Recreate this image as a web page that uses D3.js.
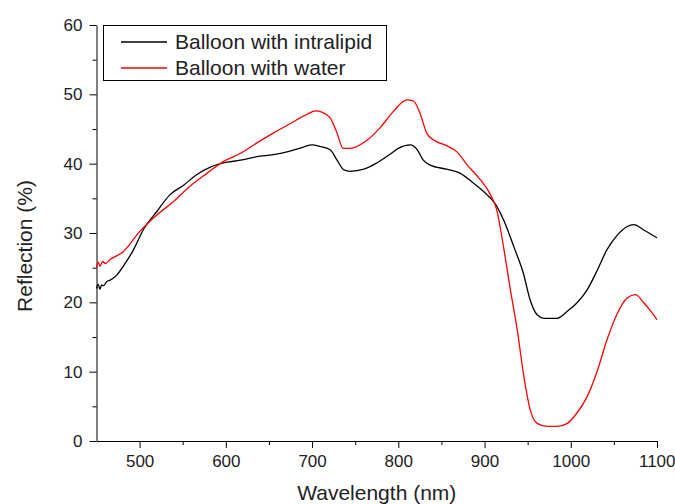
<!DOCTYPE html>
<html>
<head>
<meta charset="utf-8">
<script src="https://cdn.jsdelivr.net/npm/d3@7"></script>
<style>
  body { margin: 0; background: #fff; }
  svg text { font-family: "Liberation Sans", Arial, sans-serif; }
  .axis path, .axis line { stroke: #000; stroke-width: 1; }
  .axis text { font-size: 17px; fill: #222; }
</style>
</head>
<body>
<div id="chart"></div>
<script>
const SVG_WIDTH = 675;
const SVG_HEIGHT = 504;
const X_RANGE = [96.5, 657];
const Y_RANGE = [441, 25];

const X_LABEL = "Wavelength (nm)";
const Y_LABEL = "Reflection (%)";
const SERIES_NAMES = ["Balloon with intralipid", "Balloon with water"];
const SERIES_COLORS = ["#000000", "#ff0000"];

const X_MAJOR = [500, 600, 700, 800, 900, 1000, 1100];
const X_MINOR = [550, 650, 750, 850, 950, 1050];
const Y_MAJOR = [0, 10, 20, 30, 40, 50, 60];
const Y_MINOR = [5, 15, 25, 35, 45, 55];

// black curve
const intralipidWl = [450, 452, 454, 456, 458, 462, 466, 474, 481, 493, 504, 520, 535, 551, 566, 582, 597, 617, 636, 655, 671, 690, 700, 709, 721, 729, 737, 744, 760, 775, 791, 800, 814, 822, 829, 837, 856, 872, 887, 903, 913, 922, 934, 945, 953, 961, 969, 984, 996, 1007, 1019, 1031, 1042, 1054, 1065, 1073, 1085, 1100];
const intralipidR  = [22.0, 22.6, 21.9, 22.5, 22.4, 23.0, 23.2, 24.0, 25.2, 27.6, 30.4, 33.1, 35.5, 36.9, 38.4, 39.5, 40.1, 40.5, 41.0, 41.3, 41.7, 42.4, 42.7, 42.5, 42.0, 40.5, 39.1, 38.9, 39.2, 40.1, 41.4, 42.2, 42.7, 42.0, 40.5, 39.8, 39.2, 38.6, 37.2, 35.5, 34.1, 31.9, 28.0, 24.2, 20.3, 18.2, 17.7, 17.7, 18.7, 19.9, 21.8, 24.7, 27.6, 29.7, 30.9, 31.2, 30.4, 29.3];

// red curve
const waterWl = [450, 452, 454, 457, 460, 466, 481, 500, 520, 539, 558, 578, 597, 617, 636, 655, 675, 694, 704, 712, 721, 729, 736, 744, 764, 779, 794, 810, 818, 825, 833, 841, 856, 868, 880, 895, 907, 914, 922, 930, 938, 945, 953, 961, 973, 984, 996, 1007, 1019, 1031, 1042, 1054, 1065, 1075, 1085, 1093, 1100];
const waterR  = [25.0, 25.8, 25.2, 25.9, 25.6, 26.2, 27.3, 30.2, 32.6, 34.5, 36.7, 38.6, 40.3, 41.5, 43.0, 44.4, 45.8, 47.1, 47.6, 47.4, 46.6, 44.4, 42.2, 42.2, 43.4, 45.2, 47.5, 49.2, 49.0, 47.3, 44.4, 43.4, 42.6, 41.7, 39.8, 37.7, 35.5, 33.4, 28.0, 21.8, 16.0, 9.8, 4.5, 2.55, 2.1, 2.1, 2.55, 4.0, 6.4, 10.2, 14.6, 18.4, 20.6, 21.1, 19.9, 18.7, 17.5];

const seriesData = [
    intralipidWl.map((w, i) => ({ wl: w, r: intralipidR[i] })),
    waterWl.map((w, i) => ({ wl: w, r: waterR[i] }))
];

const svg = d3.select("#chart")
    .append("svg")
    .attr("width", SVG_WIDTH)
    .attr("height", SVG_HEIGHT);

const xScale = d3.scaleLinear().domain([450, 1100]).range(X_RANGE);
const yScale = d3.scaleLinear().domain([0, 60]).range(Y_RANGE);

// minor ticks first, main axes on top
svg.append("g")
    .attr("class", "axis")
    .attr("transform", `translate(0,${Y_RANGE[0]})`)
    .call(d3.axisBottom(xScale).tickValues(X_MINOR).tickFormat("").tickSize(4).tickSizeOuter(0))
    .select(".domain").remove();

svg.append("g")
    .attr("class", "axis")
    .attr("transform", `translate(${X_RANGE[0]},0)`)
    .call(d3.axisLeft(yScale).tickValues(Y_MINOR).tickFormat("").tickSize(4).tickSizeOuter(0))
    .select(".domain").remove();

svg.append("g")
    .attr("class", "axis x-axis")
    .attr("transform", `translate(0,${Y_RANGE[0]})`)
    .call(d3.axisBottom(xScale).tickValues(X_MAJOR).tickFormat(d3.format("d"))
        .tickSize(7).tickPadding(7).tickSizeOuter(0));

svg.append("g")
    .attr("class", "axis y-axis")
    .attr("transform", `translate(${X_RANGE[0]},0)`)
    .call(d3.axisLeft(yScale).tickValues(Y_MAJOR).tickFormat(d3.format("d"))
        .tickSize(7).tickPadding(7).tickSizeOuter(0));

// last label sits against the right edge, as in the original
svg.select(".x-axis").selectAll(".tick text")
    .filter(d => d === 1100)
    .attr("text-anchor", "end")
    .attr("x", 675 - X_RANGE[1]);

svg.append("text")
    .attr("x", (X_RANGE[0] + X_RANGE[1]) / 2)
    .attr("y", 500)
    .attr("text-anchor", "middle")
    .style("font-size", "21px")
    .style("fill", "#222")
    .text(X_LABEL);

svg.append("text")
    .attr("transform", "rotate(-90)")
    .attr("x", -246)
    .attr("y", 32)
    .attr("text-anchor", "middle")
    .style("font-size", "21px")
    .style("fill", "#222")
    .text(Y_LABEL);

const line = d3.line()
    .x(d => xScale(d.wl))
    .y(d => yScale(d.r))
    .curve(d3.curveMonotoneX);

svg.append("g")
    .selectAll("path")
    .data(seriesData)
    .join("path")
    .attr("d", line)
    .attr("fill", "none")
    .attr("stroke", (d, i) => SERIES_COLORS[i])
    .attr("stroke-width", 1.3);

const legend = svg.append("g")
    .attr("transform", "translate(103.5,25.5)");

legend.append("rect")
    .attr("width", 283)
    .attr("height", 55)
    .attr("fill", "#fff")
    .attr("stroke", "#000")
    .attr("stroke-width", 1);

legend.selectAll(".legend-item")
    .data(SERIES_NAMES)
    .join("g")
    .attr("class", "legend-item")
    .attr("transform", (d, i) => `translate(0, ${16.5 + i * 26})`)
    .each(function(d, i) {
        d3.select(this).append("line")
            .attr("x1", 17.5)
            .attr("x2", 63.5)
            .attr("stroke", SERIES_COLORS[i])
            .attr("stroke-width", 1.3);
        d3.select(this).append("text")
            .attr("x", 71.5)
            .attr("y", 7)
            .style("font-size", "21px")
            .style("fill", "#222")
            .text(d);
    });
</script>
</body>
</html>
